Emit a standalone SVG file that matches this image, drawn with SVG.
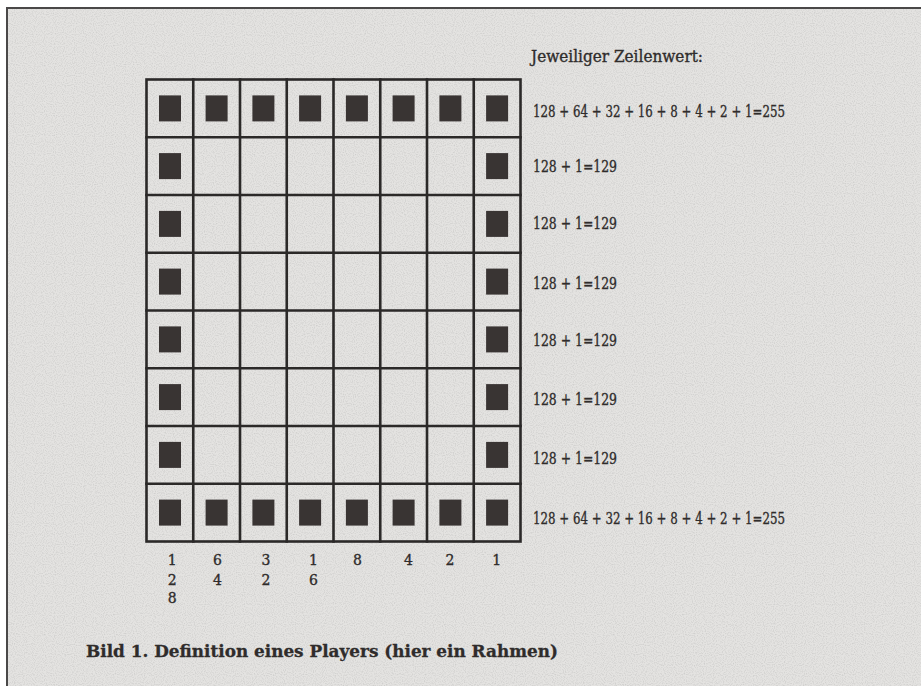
<svg xmlns="http://www.w3.org/2000/svg" width="921" height="686" viewBox="0 0 921 686">
  <style>
    .ln{stroke:#2b2928;stroke-width:2.6;fill:none;stroke-linecap:square}
    .sq{fill:#393433}
    .t{font-family:"DejaVu Serif","Liberation Serif",serif;fill:#2f2c2b;stroke:#2f2c2b;stroke-width:0.35}
    .rv{font-size:16px}
    .cl{font-size:14px;text-anchor:middle}
    .cap{font-size:17.5px;font-weight:bold;stroke-width:0.3}
  </style>
  <defs>
    <filter id="speck" x="0" y="0" width="100%" height="100%">
      <feTurbulence type="fractalNoise" baseFrequency="0.9" numOctaves="1" seed="3" result="n"/>
      <feColorMatrix in="n" type="matrix" values="0 0 0 0 0.35  0 0 0 0 0.35  0 0 0 0 0.35  0 0 0 -2.2 1.25" result="d"/>
      <feComposite in="d" in2="SourceGraphic" operator="in"/>
    </filter>
    <rect id="s" x="-11" y="-13" width="22" height="26"/>
  </defs>

  <rect x="0" y="0" width="921" height="686" fill="#ffffff"/>
  <rect x="7" y="8" width="914" height="678" fill="#e4e3e1"/>
  <rect x="7" y="8" width="914" height="678" fill="#e4e3e1" filter="url(#speck)" opacity="0.35"/>
  <path d="M7,686 V8 H921" stroke="#4a4848" stroke-width="2" fill="none"/>

  <text class="t rv" x="531" y="61.5" textLength="172" lengthAdjust="spacingAndGlyphs">Jeweiliger Zeilenwert:</text>

  <g id="grid">
    <g id="grid-lines">
      <rect class="ln" x="146.5" y="79.5" width="374" height="462"/>
      <path class="ln" d="M193.25,79.5V541.5 M240,79.5V541.5 M286.75,79.5V541.5 M333.5,79.5V541.5 M380.25,79.5V541.5 M427,79.5V541.5 M473.75,79.5V541.5"/>
      <path class="ln" d="M146.5,137.25H520.5 M146.5,195H520.5 M146.5,252.75H520.5 M146.5,310.5H520.5 M146.5,368.25H520.5 M146.5,426H520.5 M146.5,483.75H520.5"/>
    </g>
    <g id="row1" class="sq">
      <use href="#s" x="170" y="108.4"/><use href="#s" x="216.6" y="108.4"/><use href="#s" x="263.4" y="108.4"/><use href="#s" x="310.1" y="108.4"/>
      <use href="#s" x="356.9" y="108.4"/><use href="#s" x="403.6" y="108.4"/><use href="#s" x="450.4" y="108.4"/><use href="#s" x="497.1" y="108.4"/>
    </g>
    <g id="row2" class="sq"><use href="#s" x="170" y="166.1"/><use href="#s" x="497.1" y="166.1"/></g>
    <g id="row3" class="sq"><use href="#s" x="170" y="223.9"/><use href="#s" x="497.1" y="223.9"/></g>
    <g id="row4" class="sq"><use href="#s" x="170" y="281.6"/><use href="#s" x="497.1" y="281.6"/></g>
    <g id="row5" class="sq"><use href="#s" x="170" y="339.4"/><use href="#s" x="497.1" y="339.4"/></g>
    <g id="row6" class="sq"><use href="#s" x="170" y="397.1"/><use href="#s" x="497.1" y="397.1"/></g>
    <g id="row7" class="sq"><use href="#s" x="170" y="454.9"/><use href="#s" x="497.1" y="454.9"/></g>
    <g id="row8" class="sq">
      <use href="#s" x="170" y="512.6"/><use href="#s" x="216.6" y="512.6"/><use href="#s" x="263.4" y="512.6"/><use href="#s" x="310.1" y="512.6"/>
      <use href="#s" x="356.9" y="512.6"/><use href="#s" x="403.6" y="512.6"/><use href="#s" x="450.4" y="512.6"/><use href="#s" x="497.1" y="512.6"/>
    </g>
  </g>

  <g id="row-values" class="t rv">
    <text x="533" y="116.5" textLength="252" lengthAdjust="spacingAndGlyphs">128 + 64 + 32 + 16 + 8 + 4 + 2 + 1=255</text>
    <text x="533" y="172" textLength="84" lengthAdjust="spacingAndGlyphs">128 + 1=129</text>
    <text x="533" y="229" textLength="84" lengthAdjust="spacingAndGlyphs">128 + 1=129</text>
    <text x="533" y="289" textLength="84" lengthAdjust="spacingAndGlyphs">128 + 1=129</text>
    <text x="533" y="346" textLength="84" lengthAdjust="spacingAndGlyphs">128 + 1=129</text>
    <text x="533" y="405" textLength="84" lengthAdjust="spacingAndGlyphs">128 + 1=129</text>
    <text x="533" y="464" textLength="84" lengthAdjust="spacingAndGlyphs">128 + 1=129</text>
    <text x="533" y="524" textLength="252" lengthAdjust="spacingAndGlyphs">128 + 64 + 32 + 16 + 8 + 4 + 2 + 1=255</text>
  </g>

  <g id="column-values" class="t cl">
    <text x="172.3" y="565">1</text><text x="172.3" y="584.5">2</text><text x="172.3" y="603">8</text>
    <text x="217.5" y="565">6</text><text x="217.5" y="584.5">4</text>
    <text x="266" y="565">3</text><text x="266" y="584.5">2</text>
    <text x="313.5" y="565">1</text><text x="313.5" y="584.5">6</text>
    <text x="357.5" y="565">8</text>
    <text x="408.5" y="565">4</text>
    <text x="450" y="565">2</text>
    <text x="496.8" y="565">1</text>
  </g>

  <text class="t cap" x="86" y="657" textLength="472" lengthAdjust="spacingAndGlyphs">Bild 1. Definition eines Players (hier ein Rahmen)</text>
</svg>
